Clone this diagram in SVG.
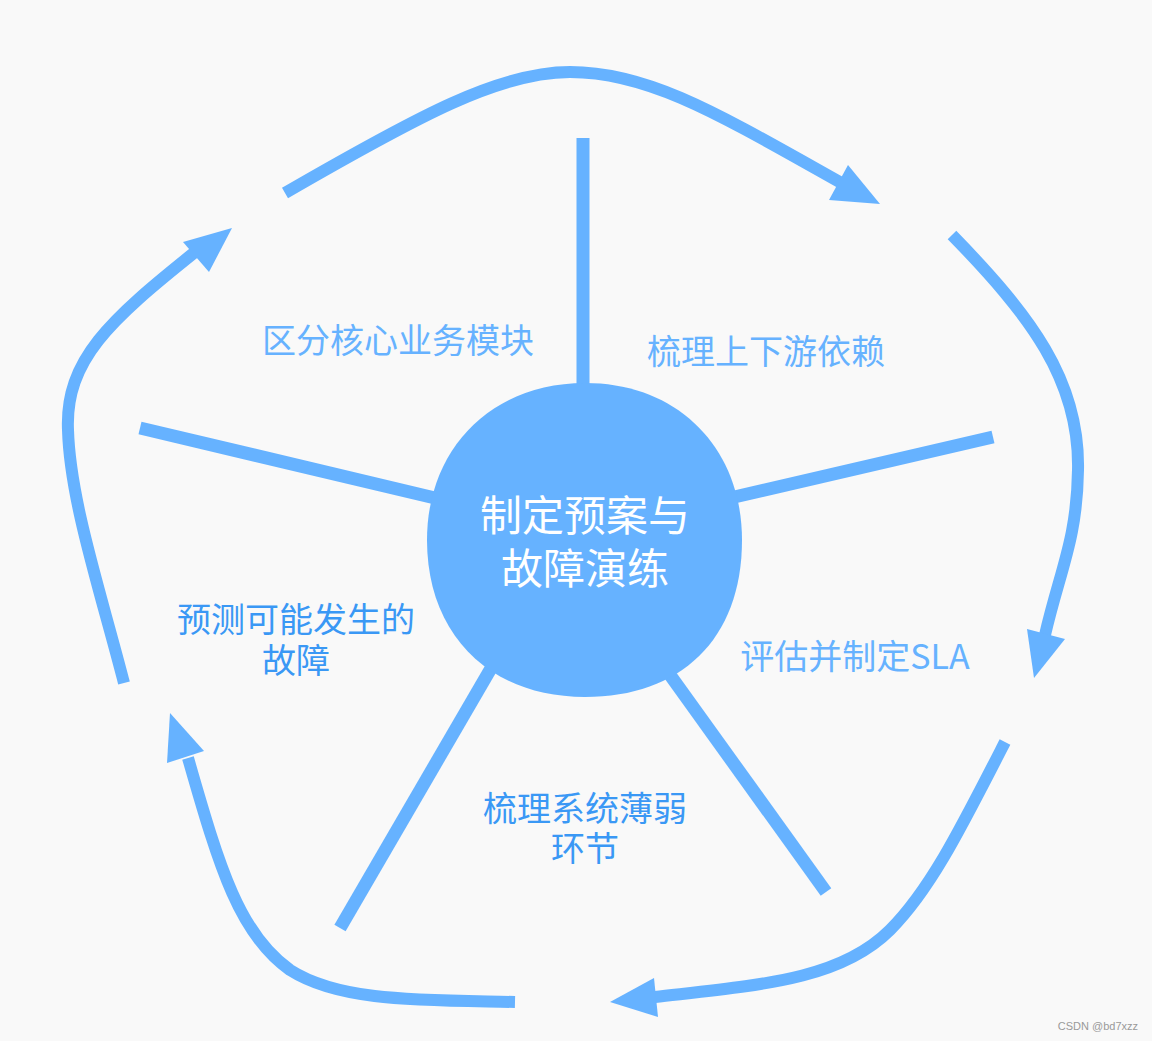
<svg xmlns="http://www.w3.org/2000/svg" width="1152" height="1041" viewBox="0 0 1152 1041">
<defs>
<style>
.spoke{stroke:#66b2ff;stroke-width:13;fill:none}
.arc{stroke:#66b2ff;stroke-width:12;fill:none}
.head{fill:#66b2ff}
.t{font-family:"Noto Sans CJK SC","Noto Sans",sans-serif;font-size:34px;text-anchor:middle}
.light{fill:#66b2ff}
.dark{fill:#3a98f5}
.center{font-family:"Noto Sans CJK SC","Noto Sans",sans-serif;font-size:42px;text-anchor:middle;fill:#ffffff}
</style>
</defs>
<rect width="1152" height="1041" fill="#f9f9f9"/>
<g id="spokes">
<line class="spoke" x1="583" y1="138" x2="583" y2="390"/>
<line class="spoke" x1="730" y1="498" x2="993" y2="437"/>
<line class="spoke" x1="140" y1="428" x2="435" y2="498"/>
<line class="spoke" x1="665" y1="668" x2="826" y2="892"/>
<line class="spoke" x1="497" y1="658" x2="340" y2="928"/>
</g>
<g id="center">
<path d="M585,383 C680,383 742,450 742,540 C742,640 680,697 585,697 C490,697 427,635 427,540 C427,450 490,383 585,383 Z" fill="#66b2ff"/>
<text class="center" x="585" y="531">制定预案与</text>
<text class="center" x="585" y="584">故障演练</text>
</g>
<g id="connectors">
<path class="arc" d="M285,193 C420,115 500,72 570,72 C650,72 720,115 845,185"/>
<polygon class="head" points="848,165 829,200 880,204"/>
<path class="arc" d="M952,235 C1030,315 1080,380 1078,470 C1077,540 1060,570 1045,635"/>
<polygon class="head" points="1027,629 1065,639 1034,678"/>
<path class="arc" d="M1005,742 C960,830 930,890 890,930 C840,980 760,985 655,997"/>
<polygon class="head" points="654,978 658,1017 610,1002"/>
<path class="arc" d="M515,1002 C420,1000 340,1002 290,970 C240,935 220,870 188,758"/>
<polygon class="head" points="167,763 204,751 170,713"/>
<path class="arc" d="M124,683 C100,590 70,500 68,430 C65,360 110,320 195,252"/>
<polygon class="head" points="183,242 209,272 232,228"/>
</g>
<g id="label1"><text class="t light" x="398" y="353">区分核心业务模块</text></g>
<g id="label2"><text class="t light" x="766" y="364">梳理上下游依赖</text></g>
<g id="label3"><text class="t light" x="855" y="669">评估并制定SLA</text></g>
<g id="label4"><text class="t dark" x="585" y="821">梳理系统薄弱</text><text class="t dark" x="585" y="861">环节</text></g>
<g id="label5"><text class="t dark" x="296" y="632">预测可能发生的</text><text class="t dark" x="296" y="673">故障</text></g>
<text x="1138" y="1030" font-family="Liberation Sans,sans-serif" font-size="11" fill="#999999" text-anchor="end">CSDN @bd7xzz</text>
</svg>
